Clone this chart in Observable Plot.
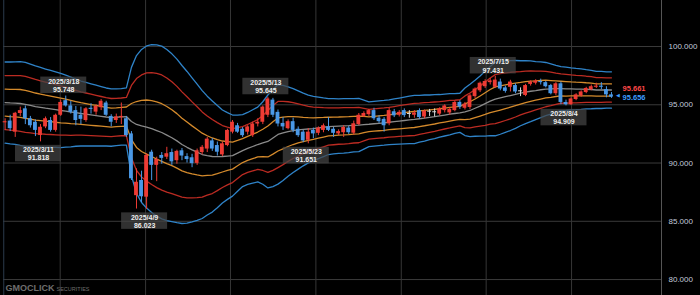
<!DOCTYPE html>
<html><head><meta charset="utf-8">
<script src="https://cdn.jsdelivr.net/npm/d3@7"></script>
<script src="https://cdn.jsdelivr.net/npm/@observablehq/plot@0.6"></script>
<style>
html,body{margin:0;padding:0;background:#000;}
#chart{width:700px;height:295px;overflow:hidden;}
</style></head><body><div id="chart"></div>
<script>
const year = 2025;
const dates = ["2/28","3/3","3/4","3/5","3/6","3/7","3/10","3/11","3/12","3/13","3/14","3/17","3/18","3/19","3/20","3/21","3/24","3/25","3/26","3/27","3/28","3/31","4/1","4/2","4/3","4/4","4/7","4/8","4/9","4/10","4/11","4/14","4/15","4/16","4/17","4/18","4/21","4/22","4/23","4/24","4/25","4/28","4/29","4/30","5/1","5/2","5/5","5/6","5/7","5/8","5/9","5/12","5/13","5/14","5/15","5/16","5/19","5/20","5/21","5/22","5/23","5/26","5/27","5/28","5/29","5/30","6/2","6/3","6/4","6/5","6/6","6/9","6/10","6/11","6/12","6/13","6/16","6/17","6/18","6/19","6/20","6/23","6/24","6/25","6/26","6/27","6/30","7/1","7/2","7/3","7/4","7/7","7/8","7/9","7/10","7/11","7/14","7/15","7/16","7/17","7/18","7/21","7/22","7/23","7/24","7/25","7/28","7/29","7/30","7/31","8/1","8/4","8/5","8/6","8/7","8/8","8/11","8/12","8/13","8/14","8/15"];
const open  = [93.45,93.60,92.65,94.25,94.65,93.80,93.50,92.36,93.10,93.65,92.80,94.10,95.35,94.90,94.50,94.10,93.65,94.70,94.37,94.75,95.15,94.00,93.65,93.90,93.80,92.50,87.20,88.50,87.07,90.93,89.80,90.65,90.50,90.90,90.20,91.05,90.55,90.45,89.97,90.90,91.20,91.90,91.50,90.70,91.50,92.65,93.20,92.90,92.65,92.35,93.35,93.50,94.10,95.40,94.35,93.40,92.95,93.55,92.90,92.65,91.95,92.80,92.55,92.80,93.10,92.90,92.50,92.60,93.00,92.56,93.30,94.00,94.15,94.50,93.85,93.75,93.37,94.40,94.10,94.50,94.25,94.10,94.50,93.95,94.45,94.40,94.20,94.50,94.30,94.50,95.20,94.70,94.77,95.70,96.20,96.55,96.90,96.50,96.95,96.45,96.50,96.65,96.20,95.80,96.75,96.85,97.00,96.90,96.65,95.95,96.80,95.20,95.00,95.45,95.75,96.05,96.30,96.50,96.60,96.30,95.85];
const high  = [93.80,94.10,94.35,94.80,94.90,94.00,93.70,93.30,93.95,93.90,94.20,95.40,95.748,95.30,94.85,94.80,94.75,95.10,95.00,95.45,95.30,94.15,94.20,95.15,94.00,92.70,89.50,89.30,90.80,91.10,90.50,90.90,91.35,91.20,91.10,91.25,90.80,90.75,91.20,91.50,92.20,92.10,91.80,91.80,92.90,93.65,93.40,93.05,93.20,93.50,93.80,94.90,95.645,95.55,94.55,93.90,93.70,93.85,93.10,92.80,92.95,93.00,93.10,93.35,93.90,93.05,92.85,93.20,93.15,93.60,94.25,94.40,94.60,94.70,94.05,93.90,94.70,94.60,94.50,94.65,94.50,94.50,94.65,94.55,94.60,94.65,94.75,95.00,94.75,95.30,95.35,95.20,95.90,96.45,96.95,97.15,97.25,97.431,97.20,96.60,97.10,96.80,96.45,96.75,97.05,97.15,97.20,97.00,96.75,96.90,96.95,95.40,95.60,95.95,96.20,96.50,96.70,96.85,96.90,96.55,96.05];
const low   = [92.80,92.70,92.20,94.00,93.30,93.00,92.27,91.818,92.95,92.65,92.65,94.00,94.80,94.20,93.20,93.30,93.50,94.20,94.10,94.50,94.00,93.10,93.40,93.30,92.20,88.50,86.05,86.60,86.023,88.50,88.40,89.90,90.30,89.80,89.90,90.20,90.00,89.60,89.80,90.70,90.90,91.00,90.60,90.55,91.40,92.50,92.55,92.20,92.40,92.20,93.10,93.30,93.90,93.90,93.10,92.80,92.85,92.60,92.20,91.75,91.651,92.10,92.35,92.60,92.70,92.20,92.35,92.20,92.45,92.40,93.20,93.90,94.00,93.65,93.40,92.65,93.20,93.90,93.95,93.90,93.85,93.85,93.75,93.80,94.00,93.95,94.05,94.30,94.10,94.40,94.60,94.55,94.60,95.55,96.05,96.40,96.70,96.40,96.20,96.00,96.10,95.95,95.70,95.70,96.60,96.70,96.70,96.45,95.85,95.80,95.00,94.909,94.95,95.35,95.65,95.95,96.20,96.40,96.30,95.60,95.55];
const close = [93.55,92.95,94.27,94.50,93.80,93.20,92.80,93.07,93.80,92.80,94.10,95.20,94.90,94.35,93.65,93.75,94.65,94.60,94.85,95.30,94.10,93.50,93.95,94.00,92.35,88.65,88.35,87.10,90.65,89.80,90.30,90.40,90.80,90.10,91.00,90.60,90.30,89.95,91.05,91.35,92.05,91.20,90.93,91.65,92.80,93.50,92.65,92.35,93.10,93.35,93.50,94.80,95.50,94.10,93.35,93.10,93.55,92.80,92.35,91.90,92.65,92.50,93.00,93.20,92.80,92.55,92.70,93.05,92.60,93.37,94.10,94.25,94.50,93.80,93.55,93.20,94.50,94.05,94.35,94.07,94.25,94.30,93.90,94.45,94.45,94.40,94.65,94.90,94.60,95.20,94.80,95.05,95.77,96.35,96.85,97.00,97.05,97.12,96.35,96.15,96.95,96.10,96.20,96.65,96.95,97.05,96.90,96.55,95.95,96.80,95.20,95.00,95.50,95.85,96.10,96.40,96.55,96.60,96.50,95.85,95.656];
// Bollinger band centre line and one standard deviation
const mid = [95.19,95.16,95.14,95.11,95.03,94.94,94.85,94.78,94.71,94.65,94.58,94.51,94.45,94.38,94.32,94.25,94.19,94.13,94.07,94.01,93.95,93.90,93.93,93.96,93.99,93.56,93.31,93.18,93.09,92.96,92.79,92.62,92.40,92.17,91.90,91.59,91.35,91.13,90.93,90.73,90.64,90.56,90.55,90.56,90.60,90.64,90.85,91.07,91.25,91.42,91.59,91.72,91.85,92.15,92.45,92.58,92.70,92.79,92.84,92.88,92.92,92.96,93.02,93.07,93.13,93.15,93.17,93.19,93.21,93.24,93.26,93.30,93.33,93.37,93.41,93.45,93.50,93.55,93.60,93.65,93.70,93.74,93.80,93.86,93.92,93.98,94.05,94.12,94.19,94.25,94.31,94.40,94.51,94.70,94.89,95.10,95.32,95.49,95.59,95.69,95.79,95.89,95.99,96.09,96.16,96.22,96.29,96.35,96.36,96.38,96.39,96.37,96.36,96.35,96.35,96.33,96.31,96.27,96.27,96.27,96.27];
const sd  = [1.16,1.17,1.18,1.20,1.20,1.18,1.16,1.14,1.12,1.10,1.08,1.06,1.03,1.00,0.96,0.93,0.91,0.89,0.87,0.85,0.83,0.82,0.81,0.81,0.82,1.55,1.97,2.19,2.32,2.40,2.45,2.47,2.45,2.40,2.34,2.26,2.17,2.06,1.95,1.83,1.70,1.59,1.46,1.33,1.24,1.16,1.09,1.03,1.03,1.05,1.07,1.18,1.33,1.39,1.42,1.36,1.28,1.20,1.12,1.04,0.97,0.92,0.88,0.84,0.80,0.79,0.78,0.78,0.77,0.76,0.76,0.70,0.64,0.64,0.64,0.64,0.64,0.65,0.66,0.67,0.68,0.69,0.67,0.66,0.64,0.63,0.61,0.60,0.59,0.57,0.56,0.68,0.75,0.80,0.86,0.93,0.99,1.05,1.04,1.02,1.00,0.97,0.93,0.90,0.87,0.83,0.80,0.76,0.72,0.67,0.63,0.62,0.60,0.59,0.58,0.56,0.55,0.53,0.53,0.52,0.52];
const yTicks = [80, 85, 90, 95, 100];
const gridX = [10.9, 27.8, 44.6, 61.5, 78.4, 95.2, 112.1];
const calloutDates = ["3/11", "3/18", "4/9", "5/13", "5/23", "7/15", "8/4"];
const calloutKinds = ["low", "high", "low", "high", "low", "high", "low"];
const lastAsk = 95.661, lastBid = 95.656;

const W = 700, H = 295;
const xDomain = [-0.32, 129.9];
const yDomain = [78.63, 103.95];
const k = H / (yDomain[1] - yDomain[0]); // px per price unit
const kx = (W - 3 - 39) / (xDomain[1] - xDomain[0]);

const UP = "#ee3b34", DOWN = "#4a98e6", DOJI = "#d8d8d8";
const candles = dates.map((d, i) => ({
  i, date: d, o: open[i], h: high[i], l: low[i], c: close[i],
  col: Math.abs(close[i] - open[i]) < 0.001 ? DOJI : close[i] > open[i] ? UP : DOWN
}));
const bodies = candles.filter(d => d.col !== DOJI);
const dojis = candles.filter(d => d.col === DOJI);

const bands = [
  {m: 3, color: "#2f83c8"}, {m: 2, color: "#bb2b22"}, {m: 1, color: "#d48a2c"},
  {m: 0, color: "#8a8a8a"}, {m: -1, color: "#d48a2c"}, {m: -2, color: "#bb2b22"}, {m: -3, color: "#2f83c8"}
];
const bandMarks = bands.map(b => Plot.line(mid.map((v, i) => ({i, v: v + b.m * sd[i]})),
  {x: "i", y: "v", stroke: b.color, strokeWidth: 1.3}));

const callouts = calloutDates.map((d, n) => {
  const i = dates.indexOf(d);
  const kind = calloutKinds[n];
  const v = kind === "high" ? high[i] : low[i];
  const top = kind === "high" ? v + 19 / k : v - 3.5 / k;
  return {i, v, kind, text: `${year}/${d}\n${d3.format(".3f")(v)}`,
    top, bottom: top - 16.5 / k, cx: i - 2 / kx};
});
const halfBox = 23 / kx;

const chart = Plot.plot({
  width: W, height: H,
  marginTop: 0, marginBottom: 0, marginLeft: 3, marginRight: 39,
  style: {background: "#000", color: "#c3cbdb", fontFamily: "Liberation Sans, Arial, sans-serif", fontSize: "8px"},
  x: {domain: xDomain, axis: null},
  y: {domain: yDomain, axis: null},
  marks: [
    Plot.ruleY(yTicks, {stroke: "#3a3a3a", strokeWidth: 1}),
    Plot.ruleX(gridX, {stroke: "#363636", strokeWidth: 1}),
    Plot.ruleX([xDomain[1]], {stroke: "#555", strokeWidth: 1}),
    Plot.ruleX([xDomain[0] + 0.05], {stroke: "#2b3b4d", strokeWidth: 1}),
    Plot.axisY(yTicks, {anchor: "right", tickSize: 0, tickPadding: 7, tickFormat: d3.format(".3f"),
      fill: "#c3cbdb", fontSize: 8}),
    ...bandMarks,
    Plot.ruleX(candles, {x: "i", y1: "l", y2: "h", stroke: "col", strokeWidth: 1}),
    Plot.rect(bodies, {x1: d => d.i - 0.38, x2: d => d.i + 0.38, y1: "o", y2: "c", fill: "col"}),
    Plot.ruleY(dojis, {y: "c", x1: d => d.i - 0.38, x2: d => d.i + 0.38, stroke: "col", strokeWidth: 1}),
    Plot.rect(callouts, {x1: d => d.cx - halfBox, x2: d => d.cx + halfBox, y1: "bottom", y2: "top",
      fill: "#444", fillOpacity: 0.72}),
    Plot.text(callouts, {x: "cx", y: d => (d.top + d.bottom) / 2, text: "text", fill: "#eeeeee",
      fontWeight: "bold", fontSize: 7, lineHeight: 1.2, lineAnchor: "middle"}),
    Plot.text([lastAsk], {x: dates.length - 1 + 2.2, y: d => d, text: d => d3.format(".3f")(d),
      dy: -8.5, textAnchor: "start", fill: "#ff4848", fontWeight: "bold", fontSize: 7.5, lineAnchor: "middle"}),
    Plot.text([lastBid], {x: dates.length - 1 + 2.2, y: d => d, text: d => d3.format(".3f")(d),
      dy: 0.5, textAnchor: "start", fill: "#3d9cff", fontWeight: "bold", fontSize: 7.5, lineAnchor: "middle"}),
    Plot.text([lastBid], {x: dates.length - 1 + 1.3, y: d => d, text: () => "◀",
      dy: -2, fill: "#3d9cff", fontSize: 5, lineAnchor: "middle"}),
    Plot.text(["GMOCLICK"], {frameAnchor: "bottom-left", dx: 2, dy: -7, text: d => d, textAnchor: "start",
      lineAnchor: "middle", fill: "#6e6e6e", fontWeight: "bold", fontSize: 9}),
    Plot.text(["SECURITIES"], {frameAnchor: "bottom-left", dx: 53, dy: -6, text: d => d, textAnchor: "start",
      lineAnchor: "middle", fill: "#6e6e6e", fontSize: 5.5})
  ]
});
document.getElementById("chart").appendChild(chart);
</script></body></html>
